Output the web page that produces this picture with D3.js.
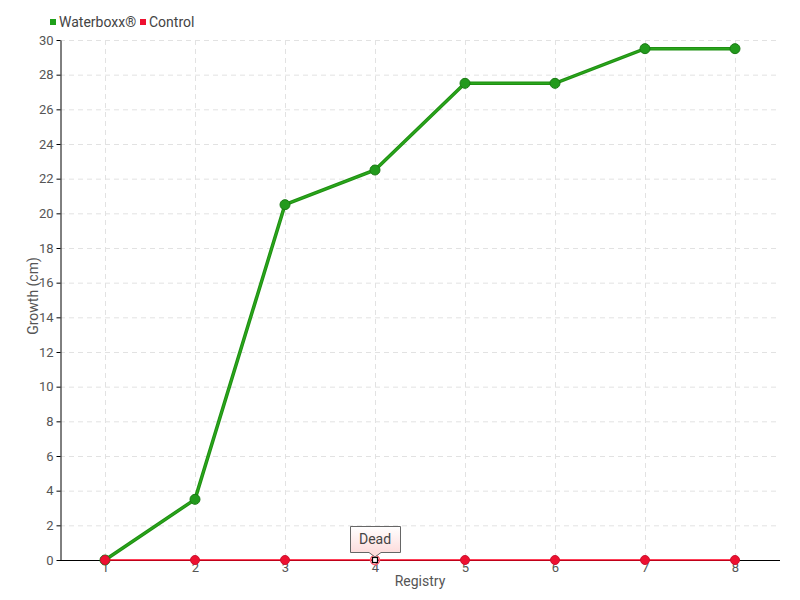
<!DOCTYPE html>
<html>
<head>
<meta charset="utf-8">
<script src="https://cdn.jsdelivr.net/npm/d3@7"></script>
<style>
    body { margin: 0; background: #fff; }
    text { font-family: Roboto, "Liberation Sans Narrow", sans-serif; }
</style>
</head>
<body>
<div id="chart"></div>
<script>
// chart data
const registry = [1, 2, 3, 4, 5, 6, 7, 8];
const waterboxx = [0, 3.5, 20.5, 22.5, 27.5, 27.5, 29.5, 29.5];
const control = [0, 0, 0, 0, 0, 0, 0, 0];
const yTicks = d3.range(0, 31, 2);
const deadIndex = 3;
const deadLabel = "Dead";

const width = 800;
const height = 600;
const margin = {top: 40, right: 20, bottom: 40, left: 60};

const svg = d3.select("#chart").append("svg")
    .attr("width", width)
    .attr("height", height);

const xScale = d3.scalePoint()
    .domain(registry)
    .range([margin.left, width - margin.right])
    .padding(0.5);

const yScale = d3.scaleLinear()
    .domain([0, 30])
    .range([height - margin.bottom, margin.top]);

// gridlines
const grid = svg.append("g").attr("class", "grid");
grid.selectAll(".hgrid").data(yTicks.filter(d => d > 0)).enter()
    .append("line")
        .attr("x1", margin.left)
        .attr("x2", width - margin.right)
        .attr("y1", d => yScale(d) + 0.5)
        .attr("y2", d => yScale(d) + 0.5)
        .attr("stroke", "#e2e2e2")
        .attr("stroke-dasharray", "5,4");
grid.selectAll(".vgrid").data(registry).enter()
    .append("line")
        .attr("x1", d => xScale(d) + 0.5)
        .attr("x2", d => xScale(d) + 0.5)
        .attr("y1", margin.top)
        .attr("y2", height - margin.bottom)
        .attr("stroke", "#e2e2e2")
        .attr("stroke-dasharray", "5,4");

// y axis
const yAxis = d3.axisLeft(yScale).tickValues(yTicks).tickSize(4).tickPadding(3).tickSizeOuter(0);
const yg = svg.append("g")
    .attr("transform", "translate(" + (margin.left + 0.5) + ",0)")
    .call(yAxis);
yg.selectAll("text").attr("fill", "#555").style("font-size", "13px");
yg.select(".domain").attr("stroke", "#000");

// x axis
const xAxis = d3.axisBottom(xScale).tickSize(0).tickPadding(2).tickSizeOuter(0);
const xg = svg.append("g")
    .attr("transform", "translate(0," + (height - margin.bottom + 0.5) + ")")
    .call(xAxis);
xg.selectAll("text").attr("fill", "#555").style("font-size", "13px");
xg.select(".domain").attr("stroke", "#000").attr("d", "M" + margin.left + ",0H" + (width - margin.right));

// axis labels
svg.append("text")
    .attr("x", 420)
    .attr("y", 586)
    .attr("text-anchor", "middle")
    .attr("fill", "#555")
    .style("font-size", "14px")
    .text("Registry");

svg.append("text")
    .attr("transform", "translate(38," + 296 + ") rotate(-90)")
    .attr("text-anchor", "middle")
    .attr("fill", "#555")
    .style("font-size", "14px")
    .text("Growth (cm)");

// waterboxx series
const line = d3.line()
    .x((d, i) => xScale(registry[i]))
    .y(d => yScale(d));

svg.append("path")
    .datum(waterboxx)
    .attr("d", line)
    .attr("fill", "none")
    .attr("stroke", "#1f8f12")
    .attr("stroke-width", 3.5);
svg.append("path")
    .datum(waterboxx)
    .attr("d", line)
    .attr("fill", "none")
    .attr("stroke", "#2aa61c")
    .attr("stroke-width", 1.5);

svg.selectAll(".wdot").data(waterboxx).enter()
    .append("circle")
        .attr("cx", (d, i) => xScale(registry[i]))
        .attr("cy", d => yScale(d))
        .attr("r", 5)
        .attr("fill", "#229a1c")
        .attr("stroke", "#1a7a14")
        .attr("stroke-width", 1);

// control series
svg.append("path")
    .datum(control)
    .attr("d", line)
    .attr("fill", "none")
    .attr("stroke", "#ff0020")
    .attr("stroke-width", 1.5);

svg.selectAll(".cdot").data(control).enter()
    .append("circle")
        .attr("cx", (d, i) => xScale(registry[i]))
        .attr("cy", d => yScale(d))
        .attr("r", 4.5)
        .attr("fill", (d, i) => i === deadIndex ? "none" : "#ee1030")
        .attr("stroke", (d, i) => i === deadIndex ? "none" : "#cc1030");

// dead marker + tooltip
const dx = xScale(registry[deadIndex]);
const dy = yScale(control[deadIndex]);
svg.append("circle")
    .attr("cx", dx).attr("cy", dy).attr("r", 4.5)
    .attr("fill", "none").attr("stroke", "#ff6070").attr("stroke-width", 1.5);
svg.append("rect")
    .attr("x", dx - 2.5).attr("y", dy - 2.5)
    .attr("width", 5).attr("height", 5)
    .attr("fill", "#fff").attr("stroke", "#000").attr("stroke-width", 1.2);

const defs = svg.append("defs");
const grad = defs.append("linearGradient")
    .attr("id", "tipgrad")
    .attr("x1", 0).attr("y1", 0).attr("x2", 0).attr("y2", 1);
grad.append("stop").attr("offset", "0%").attr("stop-color", "#ffffff");
grad.append("stop").attr("offset", "100%").attr("stop-color", "#fcd6d6");

const tipW = 50, tipH = 26, tipBottom = dy - 8;
const tx = dx - 25, ty = tipBottom - tipH;
svg.append("path")
    .attr("d", "M" + (tx + 0.5) + "," + (ty + 0.5) +
        "H" + (tx + tipW + 0.5) +
        "V" + (tipBottom + 0.5) +
        "H" + (dx + 6) +
        "L" + dx + "," + (dy - 3) +
        "L" + (dx - 6) + "," + (tipBottom + 0.5) +
        "H" + (tx + 0.5) + "Z")
    .attr("fill", "url(#tipgrad)")
    .attr("stroke", "#666")
    .attr("stroke-width", 1);
svg.append("text")
    .attr("x", dx)
    .attr("y", ty + 18)
    .attr("text-anchor", "middle")
    .attr("fill", "#444")
    .style("font-size", "14px")
    .text(deadLabel);

// legend
const legendItems = [
    {label: "Waterboxx®", color: "#1fa01a", x: 50},
    {label: "Control", color: "#ee1030", x: 140}
];
const legend = svg.append("g").attr("class", "legend");
legendItems.forEach(function(item) {
    legend.append("rect")
        .attr("x", item.x).attr("y", 19)
        .attr("width", 6).attr("height", 6)
        .attr("fill", item.color);
    legend.append("text")
        .attr("x", item.x + 9).attr("y", 27)
        .attr("fill", "#444")
        .style("font-size", "14px")
        .text(item.label);
});
</script>
</body>
</html>
